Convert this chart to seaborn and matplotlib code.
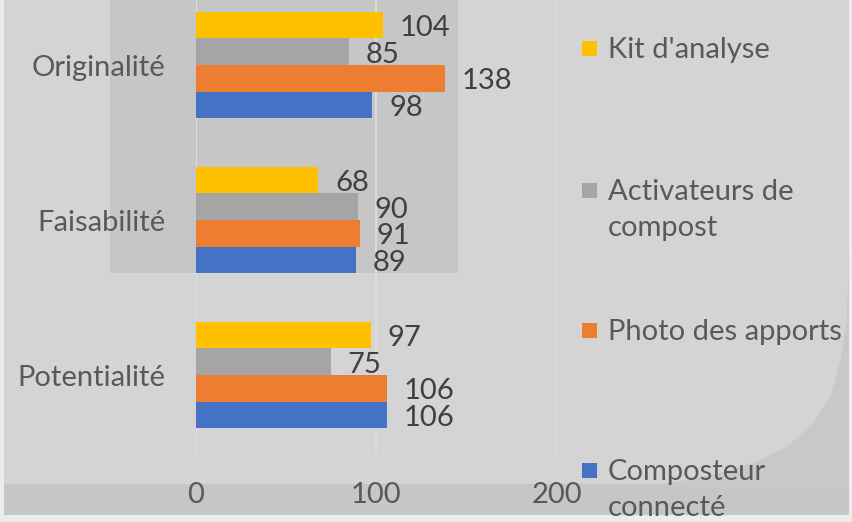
import pandas as pd
import seaborn as sns
import matplotlib.pyplot as plt
from matplotlib.patches import Rectangle, Polygon

# Data
categories = ["Originalité", "Faisabilité", "Potentialité"]
series = ["Kit d'analyse", "Activateurs de compost", "Photo des apports", "Composteur connecté"]
legend_labels = ["Kit d'analyse", "Activateurs de\ncompost", "Photo des apports", "Composteur\nconnecté"]
kit = [104, 68, 97]
activateurs = [85, 90, 75]
photo = [138, 91, 106]
composteur = [98, 89, 106]
colors = ["#FFC000", "#A5A5A5", "#ED7D31", "#4472C4"]
x_ticks = [0, 100, 200]

rows = []
for name, vals in zip(series, [kit, activateurs, photo, composteur]):
    for cat, v in zip(categories, vals):
        rows.append({"categorie": cat, "serie": name, "valeur": v})
df = pd.DataFrame(rows)

sns.set_theme(style="white")
plt.rcParams["font.family"] = ["Lato", "DejaVu Sans"]

W, H = 853, 522
fig = plt.figure(figsize=(W / 100, H / 100), dpi=100)
fig.patch.set_facecolor("#ececee")


def px(x, y):
    # pixel (from top-left) -> figure fraction
    return x / W, 1 - y / H


# background decoration
bg = "#d4d4d4"
dark = "#c6c6c6"
x0, y0 = px(4, 515)
fig.add_artist(Rectangle((x0, y0), 845 / W, 515 / H, transform=fig.transFigure,
                         facecolor=bg, edgecolor="none", zorder=0))
x0, y0 = px(110, 273)
fig.add_artist(Rectangle((x0, y0), 348 / W, 273 / H, transform=fig.transFigure,
                         facecolor=dark, edgecolor="none", zorder=0))
x0, y0 = px(4, 515)
fig.add_artist(Rectangle((x0, y0), 845 / W, 31 / H, transform=fig.transFigure,
                         facecolor=dark, edgecolor="none", zorder=0))
curve = [(849, 250), (847, 320), (841, 358), (831, 395), (814, 422), (788, 446),
         (755, 462), (720, 473), (683, 481), (650, 485), (849, 485)]
fig.add_artist(Polygon([px(a, b) for a, b in curve], closed=True, transform=fig.transFigure,
                       facecolor="#c8c8c8", edgecolor="none", zorder=0))

# axes
ax = fig.add_axes([195.7 / W, (H - 452.5) / H, (556.5 - 195.7) / W, 465 / H])
ax.set_facecolor("none")
sns.barplot(data=df, y="categorie", x="valeur", hue="serie", hue_order=series,
            palette=colors, orient="h", width=0.684, gap=0, saturation=1,
            edgecolor="none", legend=False, ax=ax)

ax.set_xlim(0, 200)
ax.set_xticks(x_ticks)
ax.grid(axis="x", color="#dcdcdc", linewidth=1.5)
ax.grid(axis="y", visible=False)
ax.set_axisbelow(True)
for s in ax.spines.values():
    s.set_visible(False)
ax.set_xlabel("")
ax.set_ylabel("")
ax.tick_params(axis="x", length=0, pad=21, labelsize=21, labelcolor="#595959")
ax.tick_params(axis="y", length=0, pad=22, labelsize=21, labelcolor="#595959")

for cont in ax.containers:
    for t in ax.bar_label(cont, padding=12, fontsize=21, color="#404040"):
        t.xyann = (12, -2)

# legend
lx = 582
baselines = [58, 200, 340, 480]
for lab, col, yb in zip(legend_labels, colors, baselines):
    sx, sy = px(lx, yb - 2)
    fig.add_artist(Rectangle((sx, sy), 15 / W, 15 / H, transform=fig.transFigure,
                             facecolor=col, edgecolor="none"))
    for i, line in enumerate(lab.split("\n")):
        tx, ty = px(608, yb + 36 * i)
        fig.text(tx, ty, line, fontsize=21, color="#595959", va="baseline", ha="left")

fig.savefig("out.png", dpi=100)
